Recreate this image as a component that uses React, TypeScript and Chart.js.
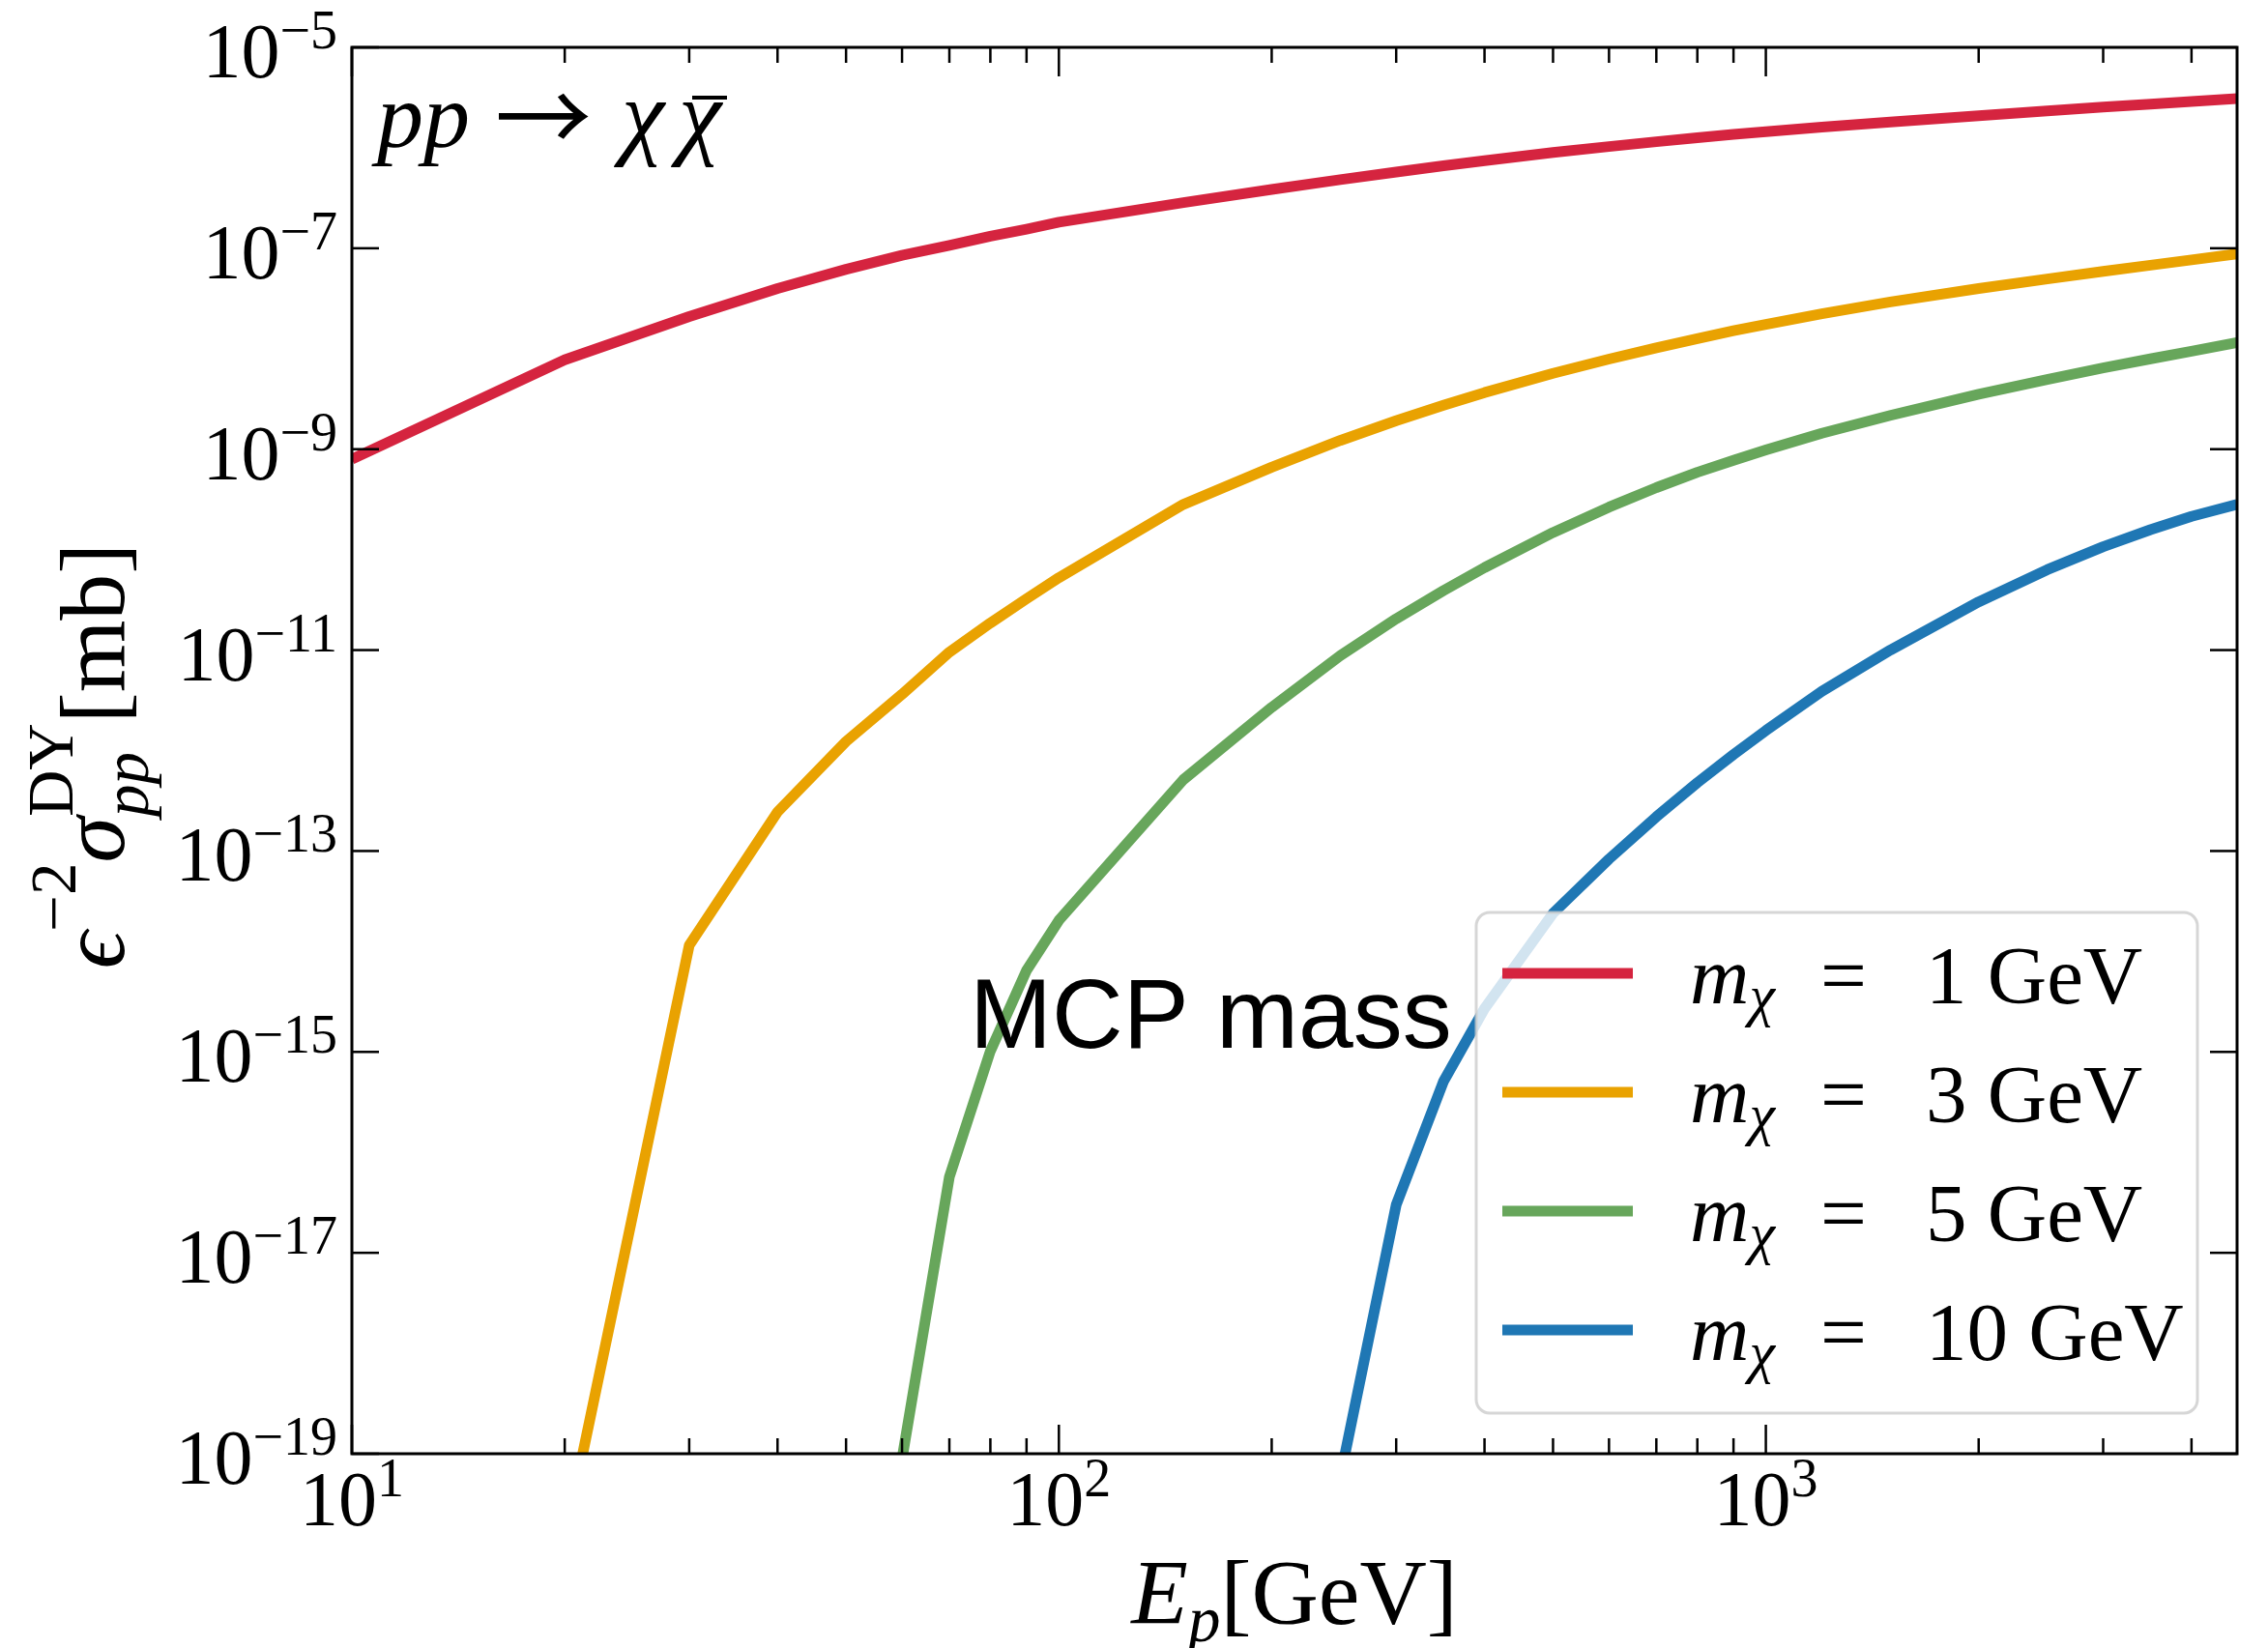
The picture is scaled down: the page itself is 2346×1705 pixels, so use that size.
import React, { useEffect, useRef } from "react";
import { Chart, registerables } from "chart.js";

Chart.register(...registerables);

// ---------------- data ----------------
const energiesGeV = [10, 20, 30, 40, 50, 60, 70, 80, 90, 100, 150, 200, 250, 300, 350, 400, 500, 600, 700, 800, 900, 1000, 1200, 1500, 2000, 2500, 3000, 3500, 4000, 4640];

const sigma1GeV = [7.94e-10, 7.76e-9, 2.09e-8, 3.98e-8, 6.17e-8, 8.51e-8, 1.07e-7, 1.32e-7, 1.55e-7, 1.82e-7, 2.85e-7, 3.85e-7, 4.82e-7, 5.74e-7, 6.62e-7, 7.45e-7, 8.97e-7, 1.03e-6, 1.15e-6, 1.26e-6, 1.36e-6, 1.45e-6, 1.61e-6, 1.81e-6, 2.09e-6, 2.33e-6, 2.54e-6, 2.72e-6, 2.89e-6, 3.09e-6];
const sigma3GeV = [null, 1.4e-20, 1.15e-14, 2.45e-13, 1.23e-12, 3.63e-12, 9.55e-12, 1.86e-11, 3.24e-11, 5.25e-11, 2.82e-10, 6.61e-10, 1.22e-9, 1.92e-9, 2.74e-9, 3.66e-9, 5.69e-9, 7.89e-9, 1.02e-8, 1.26e-8, 1.51e-8, 1.75e-8, 2.23e-8, 2.92e-8, 3.98e-8, 4.95e-8, 5.89e-8, 6.79e-8, 7.67e-8, 8.77e-8];
const sigma5GeV = [null, null, null, null, null, 8.9e-20, 5.69e-17, 1.02e-15, 6.46e-15, 2.04e-14, 5.13e-13, 2.69e-12, 8.79e-12, 2.05e-11, 3.91e-11, 6.62e-11, 1.48e-10, 2.65e-10, 4.14e-10, 5.89e-10, 7.76e-10, 9.84e-10, 1.44e-9, 2.17e-9, 3.53e-9, 4.95e-9, 6.43e-9, 7.93e-9, 9.46e-9, 1.15e-8];
const sigma10GeV = [null, null, null, null, null, null, null, null, null, null, null, null, 5.8e-20, 3.0e-17, 5.1e-16, 2.7e-15, 2.4e-14, 8.32e-14, 2.19e-13, 4.79e-13, 9.12e-13, 1.58e-12, 3.89e-12, 1.0e-11, 3.02e-11, 6.31e-11, 1.07e-10, 1.58e-10, 2.14e-10, 2.82e-10];

const massLabels = ["1", "3", "5", "10"];
const seriesColors = ["#d5243f", "#e9a201", "#67a65b", "#1f77b4"];
const yTickExponents = [-5, -7, -9, -11, -13, -15, -17, -19];
const xTickExponents = [1, 2, 3];
const xMin = 10;
const xMax = 4640;
const yMin = 1e-19;
const yMax = 1e-5;

// ---------------- text helpers ----------------
const SERIF = '"Liberation Serif", "DejaVu Serif", serif';
const SANS = '"Liberation Sans", Arial, sans-serif';
const f = (size: number, italic = false) => `${italic ? "italic " : ""}${size}px ${SERIF}`;

type Run = { t: string; f: string; dy?: number; stack?: boolean };

function layoutRuns(ctx: CanvasRenderingContext2D, runs: Run[]) {
  let cursor = 0;
  let prevStart = 0;
  const pos: number[] = [];
  for (const r of runs) {
    ctx.font = r.f;
    const w = ctx.measureText(r.t).width;
    let start: number;
    if (r.stack) {
      start = prevStart;
      cursor = Math.max(cursor, start + w);
    } else {
      start = cursor;
      cursor = start + w;
    }
    prevStart = start;
    pos.push(start);
  }
  return { pos, width: cursor };
}

function drawRuns(ctx: CanvasRenderingContext2D, runs: Run[], x: number, y: number, align: "left" | "center" | "right") {
  const { pos, width } = layoutRuns(ctx, runs);
  const x0 = align === "left" ? x : align === "center" ? x - width / 2 : x - width;
  ctx.textAlign = "left";
  ctx.textBaseline = "alphabetic";
  runs.forEach((r, i) => {
    ctx.font = r.f;
    ctx.fillText(r.t, x0 + pos[i], y + (r.dy || 0));
  });
}

const decor = {
  id: "decor",
  afterDraw(chart: any) {
    const ctx: CanvasRenderingContext2D = chart.ctx;
    const { left, right, top, bottom } = chart.chartArea;
    const xs = chart.scales.x;
    const ys = chart.scales.y;
    ctx.save();
    ctx.fillStyle = "#000";
    ctx.strokeStyle = "#000";

    const seg = (x1: number, y1: number, x2: number, y2: number) => {
      ctx.beginPath();
      ctx.moveTo(x1, y1);
      ctx.lineTo(x2, y2);
      ctx.stroke();
    };

    // ticks (inward, all sides)
    ctx.lineWidth = 2.5;
    for (let e = 1; e <= 3; e++) {
      for (let m = 1; m <= 9; m++) {
        const v = m * Math.pow(10, e);
        if (v > xMax) continue;
        const px = xs.getPixelForValue(v);
        const len = m === 1 ? 30 : 16;
        seg(px, bottom, px, bottom - len);
        seg(px, top, px, top + len);
      }
    }
    for (const ex of yTickExponents) {
      const py = ys.getPixelForValue(Math.pow(10, ex));
      seg(left, py, left + 28, py);
      seg(right, py, right - 28, py);
    }
    // frame
    ctx.lineWidth = 3;
    ctx.strokeRect(left, top, right - left, bottom - top);

    // y tick labels
    for (const ex of yTickExponents) {
      const py = ys.getPixelForValue(Math.pow(10, ex));
      drawRuns(ctx, [
        { t: "10", f: f(80) },
        { t: "\u2212" + Math.abs(ex), f: f(56), dy: -30 },
      ], left - 15, py + 31, "right");
    }
    // x tick labels
    for (const ex of xTickExponents) {
      const px = xs.getPixelForValue(Math.pow(10, ex));
      drawRuns(ctx, [
        { t: "10", f: f(80) },
        { t: String(ex), f: f(56), dy: -30 },
      ], px, bottom + 74, "center");
    }

    // x axis title
    drawRuns(ctx, [
      { t: "E", f: f(96, true) },
      { t: "p", f: f(67, true), dy: 18 },
      { t: "[GeV]", f: f(96) },
    ], (left + right) / 2, 1680, "center");

    // y axis title (rotated)
    ctx.save();
    ctx.translate(128, 782);
    ctx.rotate(-Math.PI / 2);
    drawRuns(ctx, [
      { t: "\u03f5", f: f(96, true) },
      { t: "\u22122", f: f(67), dy: -50 },
      { t: "\u03c3", f: f(96, true) },
      { t: "DY", f: f(67), dy: -53 },
      { t: "pp", f: f(67, true), dy: 25, stack: true },
      { t: "[mb]", f: f(96) },
    ], 0, 0, "center");
    ctx.restore();

    // process label
    ctx.textAlign = "left";
    ctx.textBaseline = "alphabetic";
    ctx.font = f(96, true);
    ctx.fillText("pp", 390, 152);
    ctx.font = '100px "Noto Sans CJK SC", "DejaVu Sans", sans-serif';
    ctx.fillText("\u2192", 512, 158);
    ctx.font = f(100, true);
    ctx.fillText("\u03c7", 643, 152);
    ctx.fillText("\u03c7", 702, 152);
    ctx.lineWidth = 4;
    seg(716, 101, 752, 101);

    // legend
    const lx = 1527, ly = 944, lw = 746, lh = 518, rad = 14;
    ctx.beginPath();
    ctx.moveTo(lx + rad, ly);
    ctx.arcTo(lx + lw, ly, lx + lw, ly + lh, rad);
    ctx.arcTo(lx + lw, ly + lh, lx, ly + lh, rad);
    ctx.arcTo(lx, ly + lh, lx, ly, rad);
    ctx.arcTo(lx, ly, lx + lw, ly, rad);
    ctx.closePath();
    ctx.fillStyle = "rgba(255,255,255,0.8)";
    ctx.fill();
    ctx.lineWidth = 3;
    ctx.strokeStyle = "rgba(204,204,204,0.8)";
    ctx.stroke();

    chart.data.datasets.forEach((ds: any, i: number) => {
      const yLine = 1007 + i * 123;
      const base = 1038 + i * 123;
      ctx.strokeStyle = ds.borderColor;
      ctx.lineWidth = 11;
      seg(1554, yLine, 1689, yLine);
      ctx.fillStyle = "#000";
      drawRuns(ctx, [
        { t: "m", f: f(85, true) },
        { t: "\u03c7", f: f(60, true), dy: 12 },
      ], 1748, base, "left");
      ctx.font = f(85);
      ctx.fillText("=", 1883, base);
      ctx.fillText(massLabels[i] + " GeV", 1992, base);
    });

    // annotation
    ctx.fillStyle = "#000";
    ctx.font = `102px ${SANS}`;
    ctx.fillText("MCP mass", 1003, 1084);

    ctx.restore();
  },
};

function toPoints(values: (number | null)[]) {
  const pts: { x: number; y: number }[] = [];
  values.forEach((v, i) => {
    if (v !== null) pts.push({ x: energiesGeV[i], y: v });
  });
  return pts;
}

export default function App() {
  const ref = useRef<HTMLCanvasElement>(null);

  useEffect(() => {
    const canvas = ref.current;
    if (!canvas) return;
    const series = [sigma1GeV, sigma3GeV, sigma5GeV, sigma10GeV];
    const chart = new Chart(canvas, {
      type: "line",
      data: {
        datasets: series.map((s, i) => ({
          label: `m = ${massLabels[i]} GeV`,
          data: toPoints(s),
          borderColor: seriesColors[i],
          backgroundColor: seriesColors[i],
          borderWidth: 11,
          pointRadius: 0,
          fill: false,
          tension: 0,
          clip: 0,
          borderJoinStyle: "round",
          order: 4 - i,
        })),
      },
      options: {
        responsive: false,
        animation: false,
        devicePixelRatio: 1,
        parsing: false,
        layout: { padding: { top: 49, right: 32, left: 0, bottom: 0 } },
        plugins: { legend: { display: false }, tooltip: { enabled: false } },
        scales: {
          x: {
            type: "logarithmic",
            min: xMin,
            max: xMax,
            ticks: { display: false },
            grid: { display: false },
            border: { display: false },
            afterFit: (s: any) => {
              s.height = 201;
            },
          },
          y: {
            type: "logarithmic",
            min: yMin,
            max: yMax,
            ticks: { display: false },
            grid: { display: false },
            border: { display: false },
            afterFit: (s: any) => {
              s.width = 364;
            },
          },
        },
      } as any,
      plugins: [decor],
    });
    return () => chart.destroy();
  }, []);

  return (
    <div style={{ position: "absolute", left: 0, top: 0, width: 2346, height: 1705, background: "#fff" }}>
      <canvas ref={ref} width={2346} height={1705} style={{ width: 2346, height: 1705, display: "block" }} />
    </div>
  );
}
